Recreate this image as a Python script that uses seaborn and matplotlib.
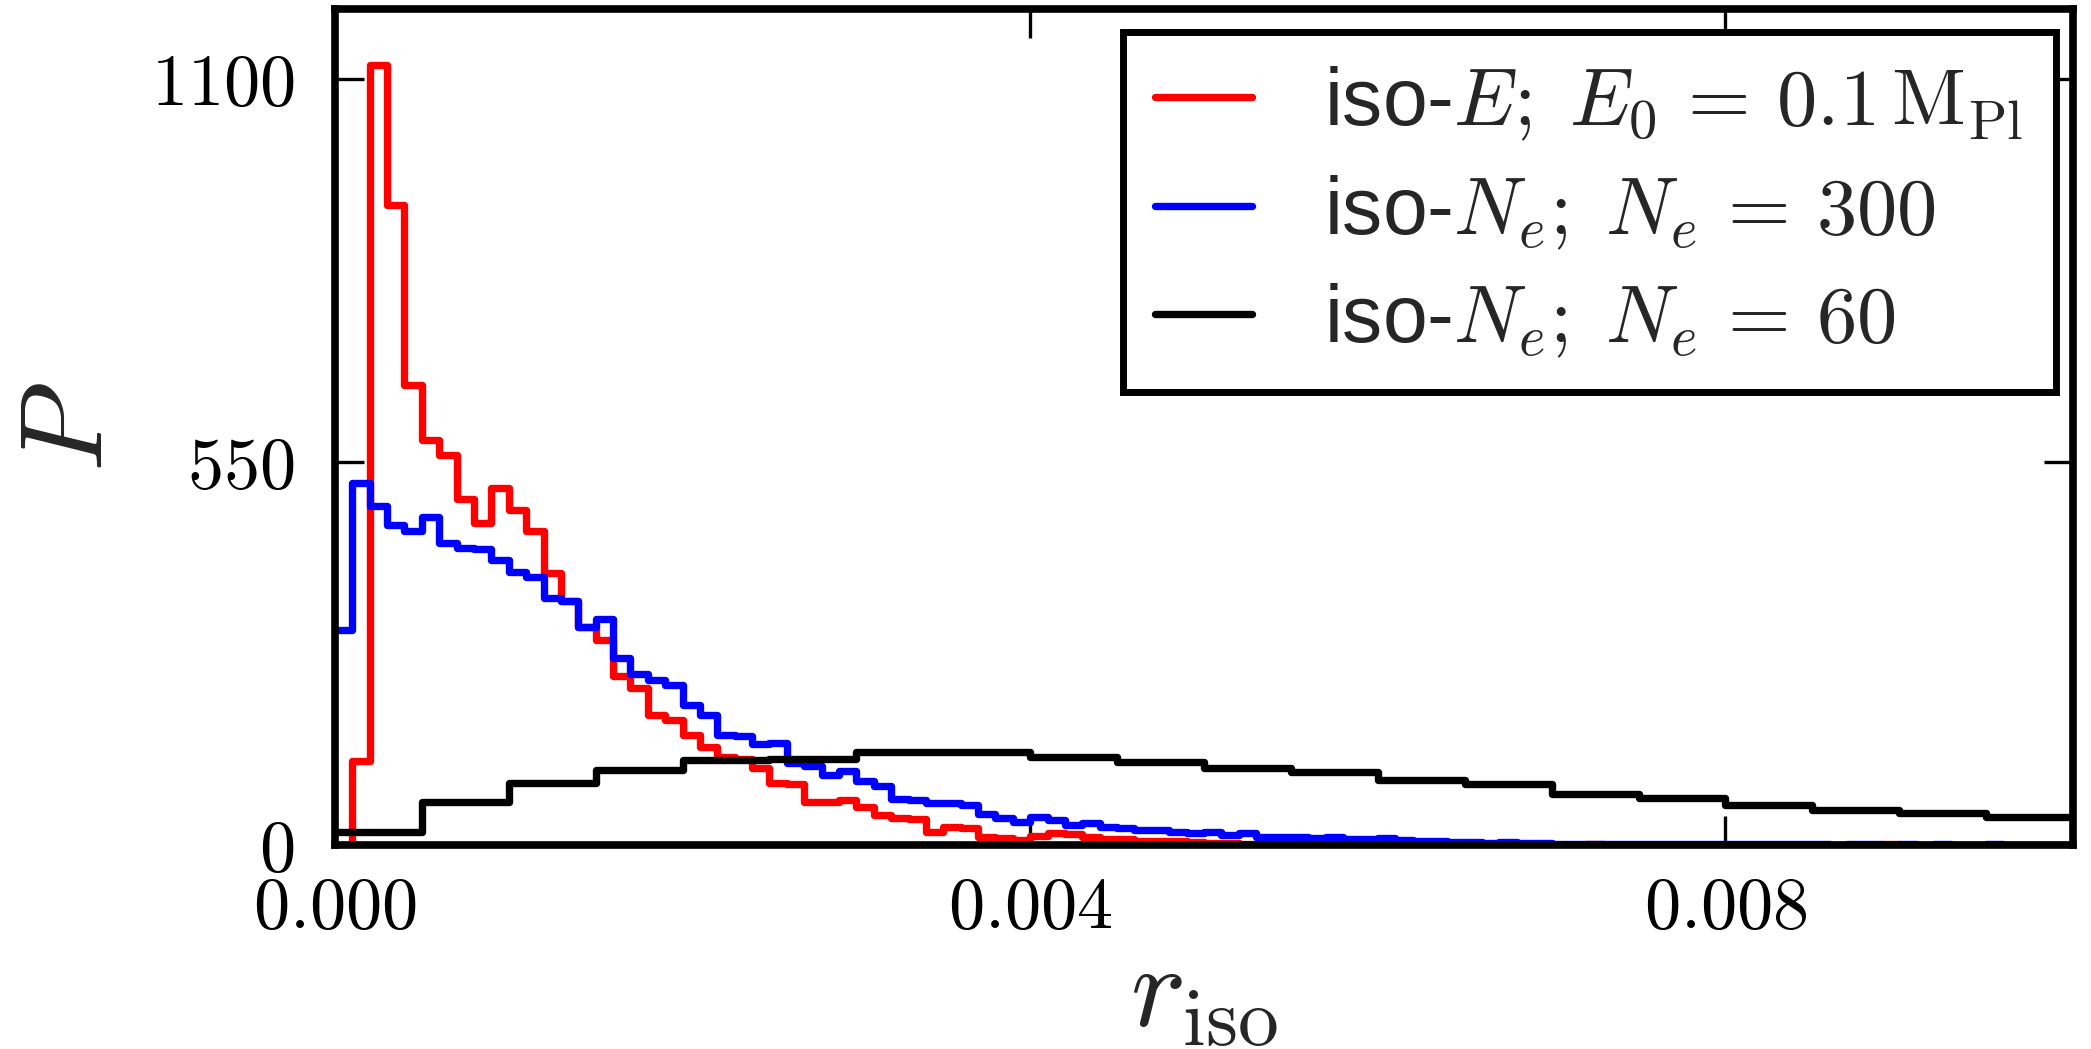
import numpy as np
import pandas as pd
import matplotlib
matplotlib.use("Agg")
import matplotlib.pyplot as plt
import seaborn as sns

# ---------------- data ----------------
# fine histograms: 100 bins of width 0.0001 on [0, 0.01]
hist_range = (0.0, 0.01)
fine_nbins = 100
red_counts = [0, 120, 1120, 918, 660, 581, 560, 497, 462, 512,
              481, 450, 390, 350, 313, 294, 242, 225, 187, 180,
              158, 140, 126, 123, 110, 89, 88, 62, 61, 64,
              54, 43, 38, 37, 19, 26, 24, 12, 10, 7,
              13, 17, 16, 12, 9, 8, 6, 6, 5, 4,
              3, 3, 2, 2, 2, 1, 1, 1, 1, 1,
              1, 1, 0, 1, 0, 1, 0, 0, 1, 0,
              0, 0, 1, 0, 0, 0, 0, 0, 0, 0,
              0, 0, 0, 0, 0, 0, 0, 0, 0, 1,
              0, 0, 0, 0, 0, 0, 0, 0, 0, 0]
blue_counts = [309, 519, 486, 459, 450, 471, 433, 426, 425, 409,
               392, 385, 354, 350, 313, 325, 268, 246, 237, 230,
               201, 187, 158, 156, 145, 146, 117, 113, 100, 106,
               92, 84, 66, 65, 60, 60, 57, 45, 38, 33,
               40, 36, 28, 31, 26, 24, 21, 21, 19, 17,
               19, 14, 17, 12, 12, 12, 10, 11, 9, 8,
               10, 7, 5, 5, 4, 4, 3, 4, 3, 3,
               2, 2, 2, 2, 1, 2, 1, 1, 2, 1,
               1, 1, 1, 2, 1, 1, 0, 1, 1, 0,
               1, 0, 1, 0, 0, 1, 0, 0, 0, 0]
# coarse histogram: 20 bins of width 0.0005 on [0, 0.01]
coarse_nbins = 20
black_counts = [19, 62, 89, 107, 122, 124, 133, 133, 126, 119,
                111, 105, 93, 88, 73, 67, 57, 50, 46, 40]

series_labels = [r"iso-$E;\;E_0\,=\,0.1\,\mathrm{M_{Pl}}$",
                 r"iso-$N_e;\;N_e\,=\,300$",
                 r"iso-$N_e;\;N_e\,=\,60$"]
series_colors = ["#ff0000", "#0000ff", "#000000"]

x_ticks = [0.0, 0.004, 0.008]
x_tick_labels = [r"$0.000$", r"$0.004$", r"$0.008$"]
y_ticks = [0, 550, 1100]
y_tick_labels = [r"$0$", r"$550$", r"$1100$"]
x_label = r"$r_{\rm iso}$"
y_label = r"$P$"

# ---------------- style ----------------
sns.set_style("ticks")
plt.rcParams["font.family"] = ["Liberation Sans", "DejaVu Sans"]
plt.rcParams["mathtext.fontset"] = "cm"

fig = plt.figure(figsize=(20.91, 10.49), dpi=100)
ax = fig.add_axes([0.1602, 0.1945, 0.8312, 0.7969])

fine_edges = np.linspace(hist_range[0], hist_range[1], fine_nbins + 1)
coarse_edges = np.linspace(hist_range[0], hist_range[1], coarse_nbins + 1)
fine_centers = 0.5 * (fine_edges[:-1] + fine_edges[1:])
coarse_centers = 0.5 * (coarse_edges[:-1] + coarse_edges[1:])

datasets = [
    (fine_centers, red_counts, fine_nbins),
    (fine_centers, blue_counts, fine_nbins),
    (coarse_centers, black_counts, coarse_nbins),
]
for (centers, counts, nb), lab, col in zip(datasets, series_labels, series_colors):
    df = pd.DataFrame({"r": centers, "w": np.asarray(counts, dtype=float)})
    sns.histplot(data=df, x="r", weights="w", bins=nb, binrange=hist_range,
                 element="step", fill=False, color=col, linewidth=5.3,
                 label=lab, ax=ax)
for ln in ax.lines:
    ln.set_linewidth(5.3)

ax.set_xlim(0, 0.01)
ax.set_ylim(0, 1200)
ax.set_xticks(x_ticks)
ax.set_xticklabels(x_tick_labels)
ax.set_yticks(y_ticks)
ax.set_yticklabels(y_tick_labels)
ax.tick_params(direction="in", length=21, width=2.4, top=True, right=True,
               labelsize=52, colors="black")
ax.tick_params(axis="x", pad=22)
ax.tick_params(axis="y", pad=29)
for s in ax.spines.values():
    s.set_linewidth(5.5)
    s.set_color("black")
    s.set_visible(True)

ax.set_xlabel(x_label, fontsize=84, labelpad=0)
ax.set_ylabel(y_label, fontsize=84, labelpad=18)

leg = ax.legend(loc="upper right", bbox_to_anchor=(0.99, 0.972),
                borderaxespad=0, fontsize=58, frameon=True, fancybox=False,
                framealpha=1, edgecolor="black", handlelength=1.2,
                handletextpad=0.9, labelspacing=0.38, borderpad=0.4)
leg.get_frame().set_linewidth(5)
for h in leg.get_lines():
    h.set_linewidth(5.3)

fig.savefig("out.png", dpi=100, facecolor="white")
